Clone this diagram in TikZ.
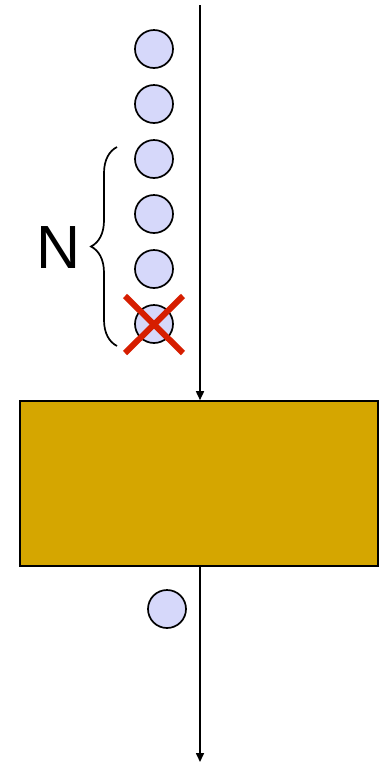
\documentclass[tikz,border=0pt]{standalone}
\usepackage{fontspec}
\setmainfont{Liberation Sans}
\usetikzlibrary{arrows.meta,decorations.pathreplacing,calc}
\definecolor{ballfill}{RGB}{214,216,250}
\definecolor{boxfill}{RGB}{213,166,0}
\definecolor{crossred}{RGB}{214,30,0}

\begin{document}
\begin{tikzpicture}[x=1pt, y=-1pt,
  ball/.style={circle, draw=black, line width=1.7pt, fill=ballfill, minimum size=38pt, inner sep=0pt},
  gate/.style={rectangle, draw=black, line width=1.6pt, fill=boxfill, minimum width=358pt, minimum height=165pt, inner sep=0pt},
  arr/.style={-{Triangle[length=9pt,width=8pt]}, line width=1.6pt, black},
  cross/.style={crossred, line width=6pt},
  lab/.style={font=\fontsize{61}{63}\selectfont, inner sep=0pt}]
\useasboundingbox (0,0) rectangle (386,764);

% incoming queue
\coordinate (top) at (200,5);
\node[ball] (b1) at (154,49) {};
\node[ball] (b2) at (154,104) {};
\node[ball] (b3) at (154,159) {};
\node[ball] (b4) at (154,214) {};
\node[ball] (b5) at (154,269) {};
\node[ball] (b6) at (154,324) {};

% the box
\node[gate] (box) at (199,483.5) {};
\draw[arr] (top) -- (top |- box.north);

% outgoing
\coordinate (bottom) at (200,762);
\node[ball] (out) at (167,609) {};
\draw[arr] (box.south -| top) -- (bottom);

% dropped one
\draw[cross] ($(b6)+(-29,-28)$) -- ($(b6)+(29,29)$);
\draw[cross] ($(b6)+(29,-28)$) -- ($(b6)+(-29,29)$);

% brace and count
\coordinate (bl) at (117,346);
\coordinate (bu) at (117,147);
\draw[line width=1.7pt, decorate, decoration={brace, amplitude=26pt}] (bl) -- (bu);
\node[lab] (n) at (59,248) {N};
\end{tikzpicture}
\end{document}
